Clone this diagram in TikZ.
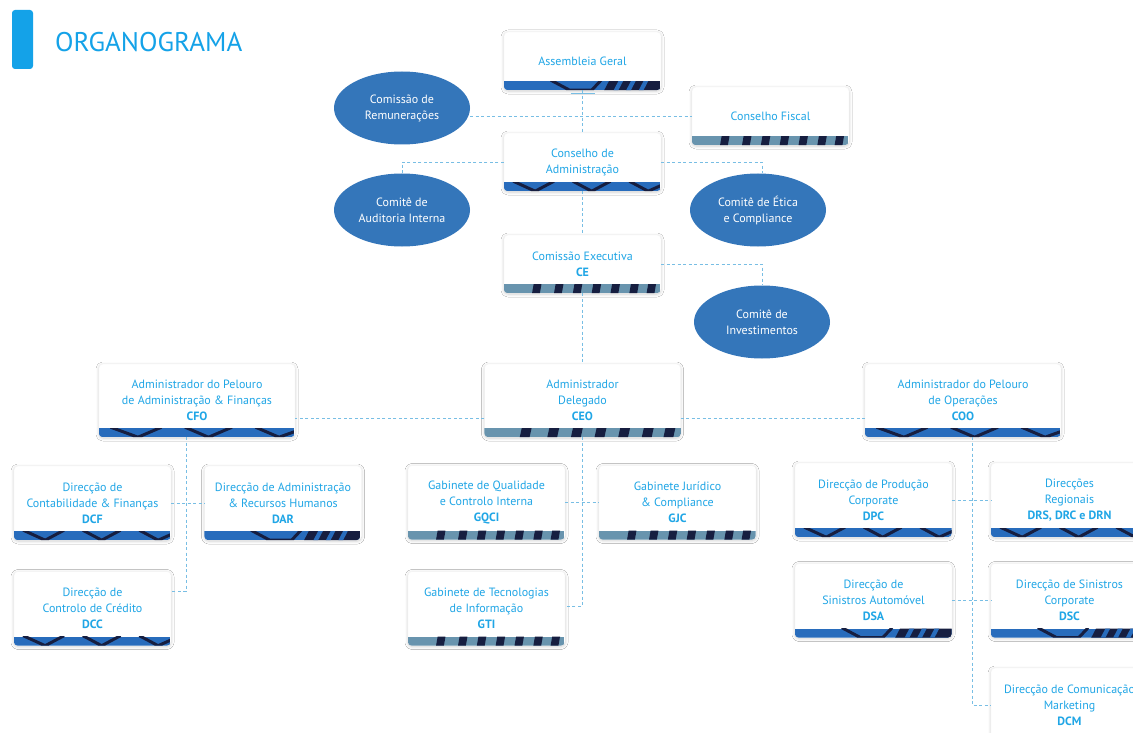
\documentclass[tikz,border=0pt]{standalone}
\usepackage{fontspec}
\setmainfont{PT Sans}
\usepackage{xcolor}
\usepackage{tikz}
\usetikzlibrary{shapes.geometric, positioning, shadows.blur}

\definecolor{txtblue}{RGB}{32,166,230}
\definecolor{titleblue}{RGB}{20,162,232}
\definecolor{ellblue}{RGB}{52,118,186}
\definecolor{bandblue}{RGB}{40,108,188}
\definecolor{navy}{RGB}{22,30,64}
\definecolor{slate}{RGB}{104,148,174}
\definecolor{linkblue}{RGB}{120,190,228}

\newcommand{\boxfont}{\fontsize{12}{16}\selectfont}

% bands at the foot of the boxes
\newcommand{\bandchev}[2]{%
  \begin{scope}[shift={(#1.south west)}, x={(#2*0.01pt,0pt)}, y={(0pt,1pt)}]
    \clip[rounded corners=4pt] (0,0) rectangle (100,30);
    \clip (0,0) rectangle (100,9);
    \fill[bandblue] (0,0) rectangle (100,9);
    \draw[navy, line width=3pt] (6,10) -- (20,0) -- (32,10);
    \draw[navy, line width=3pt] (44,10) -- (56,0) -- (68,10);
    \draw[navy, line width=3pt] (80,10) -- (92,0) -- (102,7);
  \end{scope}}
\newcommand{\bandslash}[2]{%
  \begin{scope}[shift={(#1.south west)}, x={(#2*0.01pt,0pt)}, y={(0pt,1pt)}]
    \clip[rounded corners=4pt] (0,0) rectangle (100,30);
    \clip (0,0) rectangle (100,9);
    \fill[bandblue] (0,0) rectangle (100,9);
    \draw[navy, line width=3pt] (30,10) -- (42,0) -- (56,0) -- (62,10);
    \fill[navy] (64,0) -- (67,9) -- (100,9) -- (100,0) -- cycle;
    \foreach \p in {70,78,86} \fill[bandblue] (\p,0) -- (\p+3,9) -- (\p+6,9) -- (\p+3,0) -- cycle;
  \end{scope}}
\newcommand{\bandbar}[2]{%
  \begin{scope}[shift={(#1.south west)}, x={(#2*0.01pt,0pt)}, y={(0pt,1pt)}]
    \clip[rounded corners=4pt] (0,0) rectangle (100,30);
    \fill[slate] (0,0) rectangle (100,9);
    \foreach \p in {18,32,44,56,68,80,91} \fill[navy] (\p,0) -- (\p+1,9) -- (\p+6,9) -- (\p+5,0) -- cycle;
  \end{scope}}

\begin{document}
\begin{tikzpicture}[x=1pt, y=-1pt]
\tikzstyle{orgbox} = [rectangle, rounded corners=4pt, align=center,
    minimum width=157pt, minimum height=58pt, inner sep=2pt,
    fill=white, draw=black!4, text=txtblue, font=\boxfont,
    blur shadow={shadow xshift=0pt, shadow yshift=-1pt,
      shadow blur radius=3pt, shadow opacity=20}]
\tikzstyle{pelouro} = [orgbox, minimum width=196pt, minimum height=73pt]
\tikzstyle{direccao} = [orgbox, minimum height=74pt]
\tikzstyle{comite} = [ellipse, align=center, minimum width=136pt,
    minimum height=73pt, inner sep=0pt, fill=ellblue, text=white,
    font=\boxfont]
\tikzstyle{link} = [draw=linkblue, line width=0.9pt, dash pattern=on 3pt off 2.5pt]
\tikzstyle{linksolid} = [draw=linkblue, line width=0.9pt]

\useasboundingbox (0,0) rectangle (1133,733);
\fill[white] (0,0) rectangle (1133,733);

% title
\fill[titleblue, rounded corners=3pt] (12,10) rectangle (33,69);
\node (title) [anchor=west, inner sep=0pt, text=titleblue,
    font=\fontsize{27}{32}\selectfont] at (55,42) {ORGANOGRAMA};

% governing bodies
\node (ag) [orgbox] at (582.5,61) {Assembleia Geral};
\node (cf) [orgbox] at (770.5,116) {Conselho Fiscal};
\node (ca) [orgbox] at (582.5,162) {Conselho de\\Administração};
\node (ce) [orgbox] at (582.5,264) {Comissão Executiva\\\textbf{CE}};

\node (crem) [comite] at (402,108) {Comissão de\\Remunerações};
\node (caud) [comite] at (402,210) {Comitê de\\Auditoria Interna};
\node (cet) [comite] at (758,210) {Comitê de Ética\\e Compliance};
\node (cinv) [comite] at (762,322) {Comitê de\\Investimentos};

% administrators
\node (cfo) [pelouro] at (197,400.5)
    {Administrador do Pelouro\\de Administração \& Finanças\\\textbf{CFO}};
\node (ceo) [pelouro] at (582.5,400.5)
    {Administrador\\Delegado\\\textbf{CEO}};
\node (coo) [pelouro] at (963,400.5)
    {Administrador do Pelouro\\de Operações\\\textbf{COO}};

% directorates
\node (dcf) [direccao] at (92.5,503) {Direcção de\\Contabilidade \& Finanças\\\textbf{DCF}};
\node (dar) [direccao] at (283,503) {Direcção de Administração\\\& Recursos Humanos\\\textbf{DAR}};
\node (dcc) [direccao] at (92.5,608.5) {Direcção de\\Controlo de Crédito\\\textbf{DCC}};
\node (gqci) [direccao] at (486.5,502.5) {Gabinete de Qualidade\\e Controlo Interna\\\textbf{GQCI}};
\node (gjc) [direccao] at (677.5,502.5) {Gabinete Jurídico\\\& Compliance\\\textbf{GJC}};
\node (gti) [direccao] at (486.5,608.5) {Gabinete de Tecnologias\\de Informação\\\textbf{GTI}};
\node (dpc) [direccao] at (873.5,500) {Direcção de Produção\\Corporate\\\textbf{DPC}};
\node (dreg) [direccao] at (1069.5,500) {Direcções\\Regionais\\\textbf{DRS, DRC e DRN}};
\node (dsa) [direccao] at (873.5,600.5) {Direcção de\\Sinistros Automóvel\\\textbf{DSA}};
\node (dsc) [direccao] at (1069.5,600.5) {Direcção de Sinistros\\Corporate\\\textbf{DSC}};
\node (dcm) [direccao] at (1069.5,705) {Direcção de Comunicação\\Marketing\\\textbf{DCM}};

% --- bands ---
\bandslash{ag}{157}
\bandbar{cf}{157}
\bandchev{ca}{157}
\bandbar{ce}{157}
\bandchev{cfo}{196}
\bandbar{ceo}{197}
\bandchev{coo}{196}
\bandchev{dcf}{157}
\bandslash{dar}{156}
\bandchev{dcc}{157}
\bandbar{gqci}{157}
\bandbar{gjc}{157}
\bandbar{gti}{157}
\bandchev{dpc}{157}
\bandchev{dreg}{157}
\bandslash{dsa}{157}
\bandslash{dsc}{157}

% --- connectors ---
\draw [linksolid] ([xshift=-12pt,yshift=-3pt]ag.south) -- ([xshift=12pt,yshift=-3pt]ag.south);
\draw [link] (ag.south) -- (ca.north);
\draw [link] (crem.east |- cf.west) -- (cf.west);
\draw [link] (ca.west) -| (caud.north);
\draw [link] (ca.east) -| ([xshift=4pt]cet.north);
\draw [link] (ca.south) -- (ce.north);
\draw [link] (ce.east) -| (cinv.north);
\draw [link] (ce.south) -- (ceo.north);
\draw [link] ([yshift=-18pt]ceo.west) -- ([yshift=-18pt]cfo.east);
\draw [link] ([yshift=-18pt]ceo.east) -- ([yshift=-18pt]coo.west);

\draw [link] ([xshift=-11pt]cfo.south) |- ([yshift=17pt]dcc.east);
\draw [link] (dcf.east) -- (dar.west);
\draw [link] (ceo.south) |- ([yshift=2.5pt]gti.east);
\draw [link] (gqci.east) -- (gjc.west);
\draw [link] ([xshift=9pt]coo.south) |- (dcm.west);
\draw [link] (dpc.east) -- (dreg.west);
\draw [link] (dsa.east) -- (dsc.west);
\end{tikzpicture}
\end{document}
